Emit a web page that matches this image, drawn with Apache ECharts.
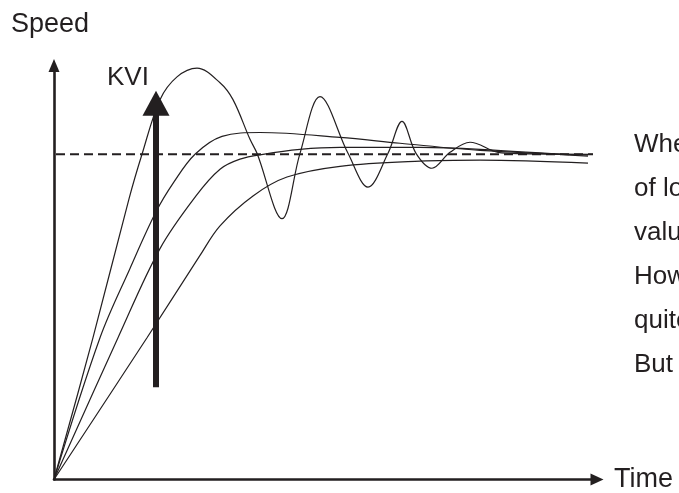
<!DOCTYPE html>
<html>
<head>
<meta charset="utf-8">
<script src="https://cdn.jsdelivr.net/npm/echarts@6/dist/echarts.min.js"></script>
<style>
  html, body { margin: 0; padding: 0; background: #fff; }
  #chart { width: 679px; height: 493px; }
</style>
</head>
<body>
<div id="chart"></div>
<script>
// time (arbitrary units) / speed (% of command)
const highKvi = [[0, 0], [7.8, 43.6], [15.0, 86.3], [17.6, 100], [21.2, 116.8], [24.6, 123.8], [28.6, 126.5],
    [33.2, 122.0], [35.8, 116.8], [39.2, 104.6], [40.6, 100.3], [45.6, 80.2], [49.2, 100.3], [53.2, 117.7],
    [58.8, 100.3], [62.8, 89.9], [66.8, 100.3], [69.6, 110.1], [72.4, 100.3], [75.6, 95.7], [79.2, 100.6],
    [83.2, 103.7], [88.8, 100.6], [93.2, 100.2], [107.8, 100]];
const midHighKvi = [[0, 0], [9.2, 43.6], [15.2, 64.9], [20.4, 82.3], [24.0, 91.5], [28.2, 100], [33.6, 105.5],
    [41.2, 106.7], [57.2, 105.2], [69.2, 103.4], [85.2, 101.2], [106.8, 99.7]];
const midLowKvi = [[0, 0], [12.8, 43.6], [21.2, 71.0], [28.4, 87.2], [33.2, 95.4], [37.2, 98.5], [41.8, 100],
    [49.2, 101.5], [57.2, 102.1], [73.2, 102.1], [85.2, 101.5], [106.8, 99.4]];
const lowKvi = [[0, 0], [18.6, 43.6], [29.2, 68.9], [33.2, 78.0], [39.8, 87.2], [46.6, 93.0], [57.2, 96.3],
    [73.2, 97.9], [85.2, 98.2], [106.8, 97.3]];
const command = [[0.4, 100], [107.8, 100]];
const kviArrow = [[20.4, 28.4], [20.4, 115.7]];
const noteLines = ['When the value of KVI is larger,', 'of load disturbance is stronger,', 'value of speed overshoot is bigger.',
    'However, if KVI is too large, it is', 'quite easy to cause oscillation.', 'But ...'];

const ink = '#231f20';
const font = '"Liberation Sans", Arial, sans-serif';

const chart = echarts.init(document.getElementById('chart'), null, { renderer: 'canvas' });

const curve = (data) => ({
    type: 'line',
    data: data,
    smooth: 0.35,
    symbol: 'none',
    clip: false,
    lineStyle: { color: ink, width: 1.2 },
    silent: true
});

const option = {
    animation: false,
    backgroundColor: '#fff',
    grid: { left: 54, right: 82, top: 65.5, bottom: 10 },
    xAxis: {
        type: 'value', min: 0, max: 108.6,
        name: 'Time', nameLocation: 'end', nameGap: 17,
        nameTextStyle: { color: ink, fontSize: 27, fontFamily: font },
        axisLine: { lineStyle: { color: ink, width: 2.6 }, symbol: ['none', 'triangle'], symbolSize: [12, 13] },
        axisTick: { show: false }, axisLabel: { show: false }, splitLine: { show: false }
    },
    yAxis: {
        type: 'value', min: 0, max: 127.3,
        name: 'Speed', nameLocation: 'end', nameGap: 27,
        nameTextStyle: { color: ink, fontSize: 27, fontFamily: font, align: 'center', padding: [0, 8, 0, 0] },
        axisLine: { lineStyle: { color: ink, width: 2.6 }, symbol: ['none', 'triangle'], symbolSize: [11, 13] },
        axisTick: { show: false }, axisLabel: { show: false }, splitLine: { show: false }
    },
    graphic: [
        { type: 'text', left: 107, top: 65, style: { text: 'KVI', fill: ink, font: '26px ' + font } }
    ].concat(noteLines.map((t, i) => ({
        type: 'text', x: 634, y: 145 + i * 44,
        style: { text: t, fill: ink, font: '26px ' + font, verticalAlign: 'middle' }
    }))),
    series: [
        {
            type: 'line',
            data: command,
            symbol: 'none',
            silent: true,
            lineStyle: { color: ink, width: 2, type: [9, 5] }
        },
        curve(highKvi),
        curve(midHighKvi),
        curve(midLowKvi),
        curve(lowKvi),
        {
            type: 'line',
            data: [],
            silent: true,
            markLine: {
                silent: true,
                symbol: ['none', 'triangle'],
                symbolSize: [27, 25],
                label: { show: false },
                lineStyle: { color: ink, width: 6, type: 'solid' },
                data: [[{ coord: kviArrow[0] }, { coord: kviArrow[1] }]]
            }
        }
    ]
};

chart.setOption(option);
</script>
</body>
</html>
